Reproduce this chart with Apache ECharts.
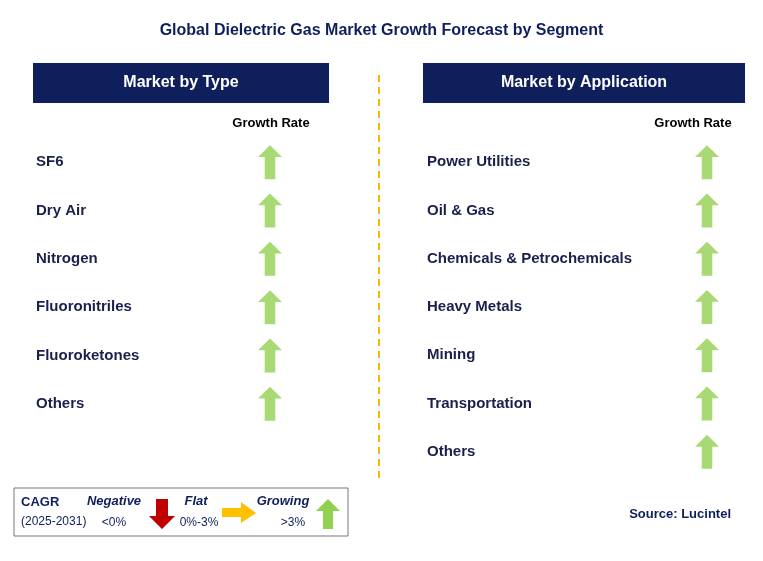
<!DOCTYPE html>
<html><head><meta charset="utf-8">
<script src="https://cdn.jsdelivr.net/npm/echarts@6/dist/echarts.min.js"></script>
<style>html,body{margin:0;padding:0;background:#fff}#c{width:763px;height:561px}</style>
</head><body><div id="c"></div>
<script>
const typeCategories = ["SF6","Dry Air","Nitrogen","Fluoronitriles","Fluoroketones","Others"];
const typeGrowth = ["Growing","Growing","Growing","Growing","Growing","Growing"];
const appCategories = ["Power Utilities","Oil & Gas","Chemicals & Petrochemicals","Heavy Metals","Mining","Transportation","Others"];
const appGrowth = ["Growing","Growing","Growing","Growing","Growing","Growing","Growing"];

const UP = 'path://M50,0 L100,45 L72,45 L72,130 L28,130 L28,45 L0,45 Z';
const DOWN = 'path://M28,0 L72,0 L72,85 L100,85 L50,130 L0,85 L28,85 Z';
const RIGHT = 'path://M0,28 L85,28 L85,0 L130,50 L85,100 L85,72 L0,72 Z';
const navy = '#0f1f5c', txt = '#1b1f4b', F = 'Liberation Sans, Arial, sans-serif';
const colorOf = g => g === 'Growing' ? '#92d050' : g === 'Flat' ? '#ffc000' : '#c00000';
const symOf = g => g === 'Growing' ? UP : g === 'Flat' ? RIGHT : DOWN;

function axisY(idx, cats, margin){
  return {type:'category', gridIndex:idx, data:cats, inverse:true,
    axisLine:{show:false}, axisTick:{show:false}, splitLine:{show:false},
    axisLabel:{align:'left', margin:margin, color:txt, fontSize:15, fontWeight:'bold', fontFamily:F}};
}
function axisX(idx){ return {type:'value', gridIndex:idx, min:0, max:1, show:false}; }
function ser(idx, cats, growth){
  return {type:'scatter', xAxisIndex:idx, yAxisIndex:idx, symbolSize:[24,34],
    data: cats.map((c,i)=>({value:[0.5,c], symbol:symOf(growth[i]), itemStyle:{color:colorOf(growth[i])}})),
    silent:true};
}
const chart = echarts.init(document.getElementById('c'));
chart.setOption({
  backgroundColor:'#fff',
  animation:false,
  title:{text:'Global Dielectric Gas Market Growth Forecast by Segment', left:'center', top:18,
    textStyle:{color:navy, fontSize:16, fontWeight:'bold', fontFamily:F}},
  grid:[{left:258, width:24, top:138, height:290},{left:695, width:24, top:138, height:338}],
  xAxis:[axisX(0), axisX(1)],
  yAxis:[axisY(0,typeCategories,222), axisY(1,appCategories,268)],
  series:[ser(0,typeCategories,typeGrowth), ser(1,appCategories,appGrowth)],
  graphic:[
    {type:'rect', shape:{x:33,y:63,width:296,height:40}, style:{fill:navy}},
    {type:'text', x:181, y:83, style:{text:'Market by Type', fill:'#fff', font:'bold 16px '+F, align:'center', verticalAlign:'middle'}},
    {type:'rect', shape:{x:423,y:63,width:322,height:40}, style:{fill:navy}},
    {type:'text', x:584, y:83, style:{text:'Market by Application', fill:'#fff', font:'bold 16px '+F, align:'center', verticalAlign:'middle'}},
    {type:'text', x:271, y:123, style:{text:'Growth Rate', fill:'#000', font:'bold 13px '+F, align:'center', verticalAlign:'middle'}},
    {type:'text', x:693, y:123, style:{text:'Growth Rate', fill:'#000', font:'bold 13px '+F, align:'center', verticalAlign:'middle'}},
    {type:'line', shape:{x1:379,y1:75,x2:379,y2:478}, style:{stroke:'#f5b800', lineWidth:2, lineDash:[7,5]}},
    {type:'rect', shape:{x:14,y:488,width:334,height:48}, style:{fill:'#fff', stroke:'#777', lineWidth:1}},
    {type:'text', x:21, y:502, style:{text:'CAGR', fill:navy, font:'bold 13px '+F, verticalAlign:'middle'}},
    {type:'text', x:21, y:522, style:{text:'(2025-2031)', fill:navy, font:'12px '+F, verticalAlign:'middle'}},
    {type:'text', x:114, y:501, style:{text:'Negative', fill:navy, font:'italic bold 13px '+F, align:'center', verticalAlign:'middle'}},
    {type:'text', x:114, y:523, style:{text:'<0%', fill:navy, font:'12px '+F, align:'center', verticalAlign:'middle'}},
    {type:'polygon', shape:{points:[[156,499],[168,499],[168,516],[175,516],[162,529],[149,516],[156,516]]}, style:{fill:'#c00000'}},
    {type:'text', x:196, y:501, style:{text:'Flat', fill:navy, font:'italic bold 13px '+F, align:'center', verticalAlign:'middle'}},
    {type:'text', x:199, y:523, style:{text:'0%-3%', fill:navy, font:'12px '+F, align:'center', verticalAlign:'middle'}},
    {type:'polygon', shape:{points:[[222,508],[241,508],[241,502],[256,513],[241,523],[241,517],[222,517]]}, style:{fill:'#ffc000'}},
    {type:'text', x:283, y:501, style:{text:'Growing', fill:navy, font:'italic bold 13px '+F, align:'center', verticalAlign:'middle'}},
    {type:'text', x:293, y:523, style:{text:'>3%', fill:navy, font:'12px '+F, align:'center', verticalAlign:'middle'}},
    {type:'polygon', shape:{points:[[328,499],[340,511],[333,511],[333,529],[323,529],[323,511],[316,511]]}, style:{fill:'#92d050'}},
    {type:'text', x:731, y:514, style:{text:'Source: Lucintel', fill:navy, font:'bold 13px '+F, align:'right', verticalAlign:'middle'}}
  ]
});
</script></body></html>
